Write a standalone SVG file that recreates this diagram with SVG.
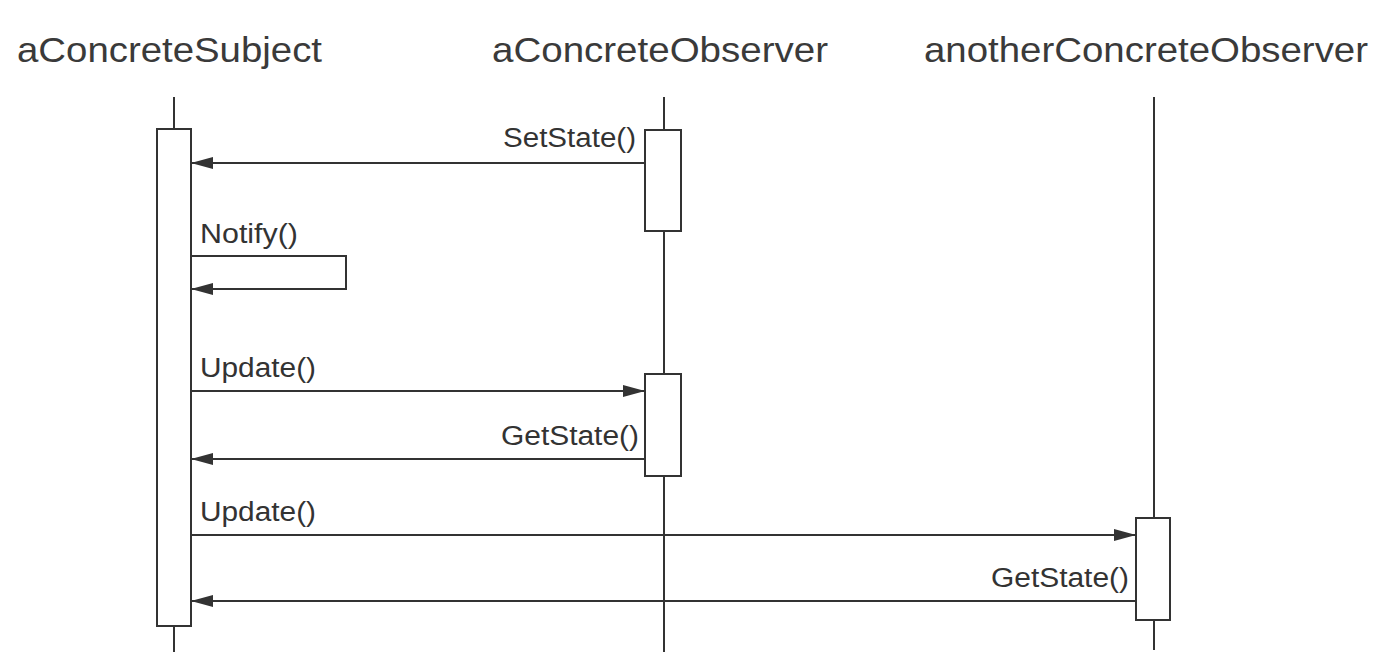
<svg xmlns="http://www.w3.org/2000/svg" width="1380" height="668" viewBox="0 0 1380 668">
<style>
.title{font-family:"Liberation Sans",Arial,sans-serif;font-size:35px;fill:#3a3a3a}
.lbl{font-family:"Liberation Sans",Arial,sans-serif;font-size:27px;fill:#333}
.life{stroke:#333;stroke-width:2;fill:none}
.act{stroke:#333;stroke-width:2;fill:#fff}
.msg{stroke:#333;stroke-width:2;fill:none}
</style>
<defs>
<marker id="ah" viewBox="0 0 22 14" refX="22" refY="7" markerWidth="22" markerHeight="14" markerUnits="userSpaceOnUse" orient="auto">
<path d="M0,1 L22,7 L0,13 Z" fill="#333"/>
</marker>
</defs>
<rect width="1380" height="668" fill="#fff"/>
<g id="aConcreteSubject">
<text class="title" x="17" y="62" textLength="305" lengthAdjust="spacingAndGlyphs">aConcreteSubject</text>
<line class="life" x1="174" y1="97" x2="174" y2="652"/>
<rect class="act" x="157" y="129" width="34" height="497"/>
</g>
<g id="aConcreteObserver">
<text class="title" x="492" y="62" textLength="336" lengthAdjust="spacingAndGlyphs">aConcreteObserver</text>
<line class="life" x1="664" y1="97" x2="664" y2="652"/>
<rect class="act" x="645" y="130" width="36" height="101"/>
<rect class="act" x="645" y="374" width="36" height="102"/>
</g>
<g id="anotherConcreteObserver">
<text class="title" x="924" y="62" textLength="444" lengthAdjust="spacingAndGlyphs">anotherConcreteObserver</text>
<line class="life" x1="1154" y1="97" x2="1154" y2="650"/>
<rect class="act" x="1136" y="518" width="34" height="102"/>
</g>
<g id="connectors">
<line class="msg" x1="645" y1="163" x2="191" y2="163" marker-end="url(#ah)"/>
<text class="lbl" x="636" y="147" text-anchor="end" textLength="133" lengthAdjust="spacingAndGlyphs">SetState()</text>
<polyline class="msg" points="191,256 346,256 346,289 191,289" marker-end="url(#ah)"/>
<text class="lbl" x="200" y="243" textLength="98" lengthAdjust="spacingAndGlyphs">Notify()</text>
<line class="msg" x1="191" y1="391" x2="645" y2="391" marker-end="url(#ah)"/>
<text class="lbl" x="200" y="377" textLength="116" lengthAdjust="spacingAndGlyphs">Update()</text>
<line class="msg" x1="645" y1="459" x2="191" y2="459" marker-end="url(#ah)"/>
<text class="lbl" x="639" y="445" text-anchor="end" textLength="138" lengthAdjust="spacingAndGlyphs">GetState()</text>
<line class="msg" x1="191" y1="535" x2="1136" y2="535" marker-end="url(#ah)"/>
<text class="lbl" x="200" y="521" textLength="116" lengthAdjust="spacingAndGlyphs">Update()</text>
<line class="msg" x1="1136" y1="601" x2="191" y2="601" marker-end="url(#ah)"/>
<text class="lbl" x="1129" y="587" text-anchor="end" textLength="138" lengthAdjust="spacingAndGlyphs">GetState()</text>
</g>
</svg>
